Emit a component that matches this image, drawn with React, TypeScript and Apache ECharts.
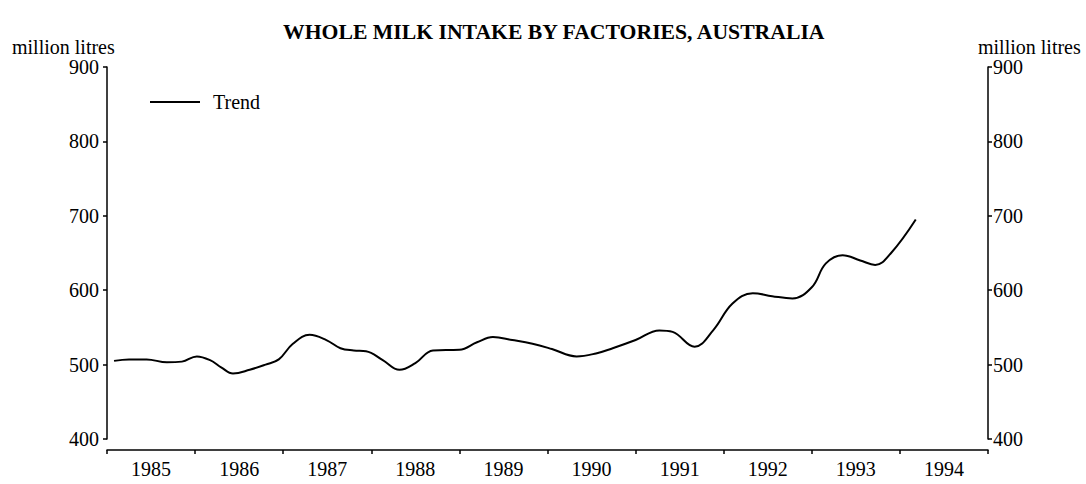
import React, { useEffect, useRef } from "react";
import * as echarts from "echarts";

const title = "WHOLE MILK INTAKE BY FACTORIES, AUSTRALIA";
const unitLabel = "million litres";
const seriesName = "Trend";
const yearLabels = ["1985", "1986", "1987", "1988", "1989", "1990", "1991", "1992", "1993", "1994"];
const yMin = 400;
const yMax = 900;
const yStep = 100;

// decimal year positions of the trend readings
const trendTime = [
  1985.08, 1985.25, 1985.45, 1985.68, 1985.85, 1986.02, 1986.17, 1986.3, 1986.43, 1986.62,
  1986.8, 1986.95, 1987.11, 1987.3, 1987.49, 1987.65, 1987.8, 1987.94, 1988.13, 1988.32,
  1988.5, 1988.7, 1989.0, 1989.2, 1989.38, 1989.6, 1989.83, 1990.05, 1990.33, 1990.55,
  1990.74, 1991.0, 1991.27, 1991.42, 1991.67, 1991.88, 1992.1, 1992.33, 1992.55, 1992.78,
  1993.0, 1993.16, 1993.35, 1993.55, 1993.72, 1993.9, 1994.18,
];
const trendValues = [
  505, 507, 507, 503, 504, 511, 506, 496, 488, 493,
  500, 507, 528, 540, 533, 522, 519, 518, 506, 493,
  502, 519, 520, 530, 537, 533, 528, 521, 511, 515,
  522, 533, 546, 544, 524, 546, 582, 596, 592, 589,
  604, 636, 647, 640, 634, 650, 695,
];

const FONT = "'Liberation Serif', 'Times New Roman', serif";
const FS = 20;

export default function App() {
  const ref = useRef<HTMLDivElement>(null);

  useEffect(() => {
    if (!ref.current) return;
    const chart = echarts.init(ref.current, undefined, { renderer: "svg" });
    const axisColor = "#000";
    chart.setOption({
      animation: false,
      backgroundColor: "#fff",
      textStyle: { fontFamily: FONT, color: "#000" },
      title: {
        text: title,
        left: 278,
        top: 16,
        textStyle: { fontFamily: FONT, fontWeight: "bold", fontSize: 21.7, color: "#000" },
      },
      legend: {
        data: [seriesName],
        left: 145,
        top: 87,
        icon: "rect",
        itemWidth: 50,
        itemHeight: 2,
        textStyle: { fontFamily: FONT, fontSize: FS, color: "#000", padding: [0, 0, 0, 8] },
      },
      graphic: [
        {
          type: "text",
          left: 12,
          top: 37,
          style: { text: unitLabel, font: `${FS}px ${FONT}`, fill: "#000" },
        },
        {
          type: "text",
          left: 978,
          top: 37,
          style: { text: unitLabel, font: `${FS}px ${FONT}`, fill: "#000" },
        },
      ],
      grid: { left: 107, right: 98, top: 67, bottom: 45, containLabel: false },
      xAxis: [
        {
          type: "category",
          data: yearLabels,
          boundaryGap: true,
          position: "bottom",
          offset: 11,
          axisLine: { show: true, lineStyle: { color: axisColor, width: 1.5 } },
          axisTick: { show: true, length: 4, alignWithLabel: false, lineStyle: { color: axisColor, width: 1.5 } },
          axisLabel: { fontFamily: FONT, fontSize: FS, color: "#000", margin: 9 },
          splitLine: { show: false },
        },
        {
          type: "value",
          min: 1985,
          max: 1995,
          show: false,
          splitLine: { show: false },
        },
      ],
      yAxis: [
        {
          type: "value",
          position: "left",
          min: yMin,
          max: yMax,
          interval: yStep,
          axisLine: { show: true, lineStyle: { color: axisColor, width: 1.5 } },
          axisTick: { show: true, length: 4, lineStyle: { color: axisColor, width: 1.5 } },
          axisLabel: { fontFamily: FONT, fontSize: FS, color: "#000", margin: 8 },
          splitLine: { show: false },
        },
        {
          type: "value",
          position: "right",
          min: yMin,
          max: yMax,
          interval: yStep,
          axisLine: { show: true, lineStyle: { color: axisColor, width: 1.5 } },
          axisTick: { show: true, length: 4, lineStyle: { color: axisColor, width: 1.5 } },
          axisLabel: { fontFamily: FONT, fontSize: FS, color: "#000", margin: 5 },
          splitLine: { show: false },
        },
      ],
      series: [
        {
          name: seriesName,
          type: "line",
          xAxisIndex: 1,
          yAxisIndex: 0,
          data: trendTime.map((t, i) => [t, trendValues[i]]),
          smooth: 0.4,
          showSymbol: false,
          symbol: "none",
          lineStyle: { color: "#000", width: 2 },
          itemStyle: { color: "#000" },
        },
      ],
    });
    return () => chart.dispose();
  }, []);

  return <div ref={ref} style={{ width: 1086, height: 484, position: "absolute", left: 0, top: 0 }} />;
}
